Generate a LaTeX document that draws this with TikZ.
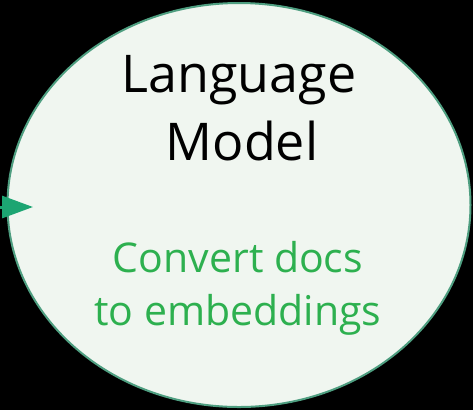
\documentclass[tikz,border=0pt]{standalone}
\usepackage{fontspec}
\setmainfont{Open Sans}
\usetikzlibrary{positioning, shapes.geometric, arrows.meta}

\definecolor{bubblefill}{HTML}{F0F6F0}
\definecolor{bubbleline}{HTML}{4E9E80}
\definecolor{arrowgreen}{HTML}{1CA572}
\definecolor{notegreen}{HTML}{2DB04F}

\tikzset{
  bubble/.style={ellipse, draw=bubbleline, fill=bubblefill, line width=2pt,
    minimum width=463pt, minimum height=404pt, inner sep=0pt},
  title/.style={anchor=base, text=black, font=\fontsize{52}{60}\selectfont},
  note/.style={anchor=base, text=notegreen, font=\fontsize{41}{48}\selectfont},
}

\begin{document}
\begin{tikzpicture}[x=1pt, y=-1pt, >={Triangle[length=31pt, width=22pt]}]
  \fill [black] (0,0) rectangle (473,410);
  \useasboundingbox (0,0) rectangle (473,410);
  \node [bubble] (lm) at (239,205) {};
  % labels
  \node [title] (lang) at (239,92) {Language};
  \node [title] (model) at (242,160) {Model};
  \node [note] (conv) at (238,272) {Convert docs};
  \node [note] (emb) at (238,325) {to embeddings};
  % incoming arrow
  \coordinate (src) at (-30,207);
  \coordinate (tip) at (33,207);
  \draw [->, arrowgreen, line width=3pt] (src) -- (tip);
\end{tikzpicture}
\end{document}
